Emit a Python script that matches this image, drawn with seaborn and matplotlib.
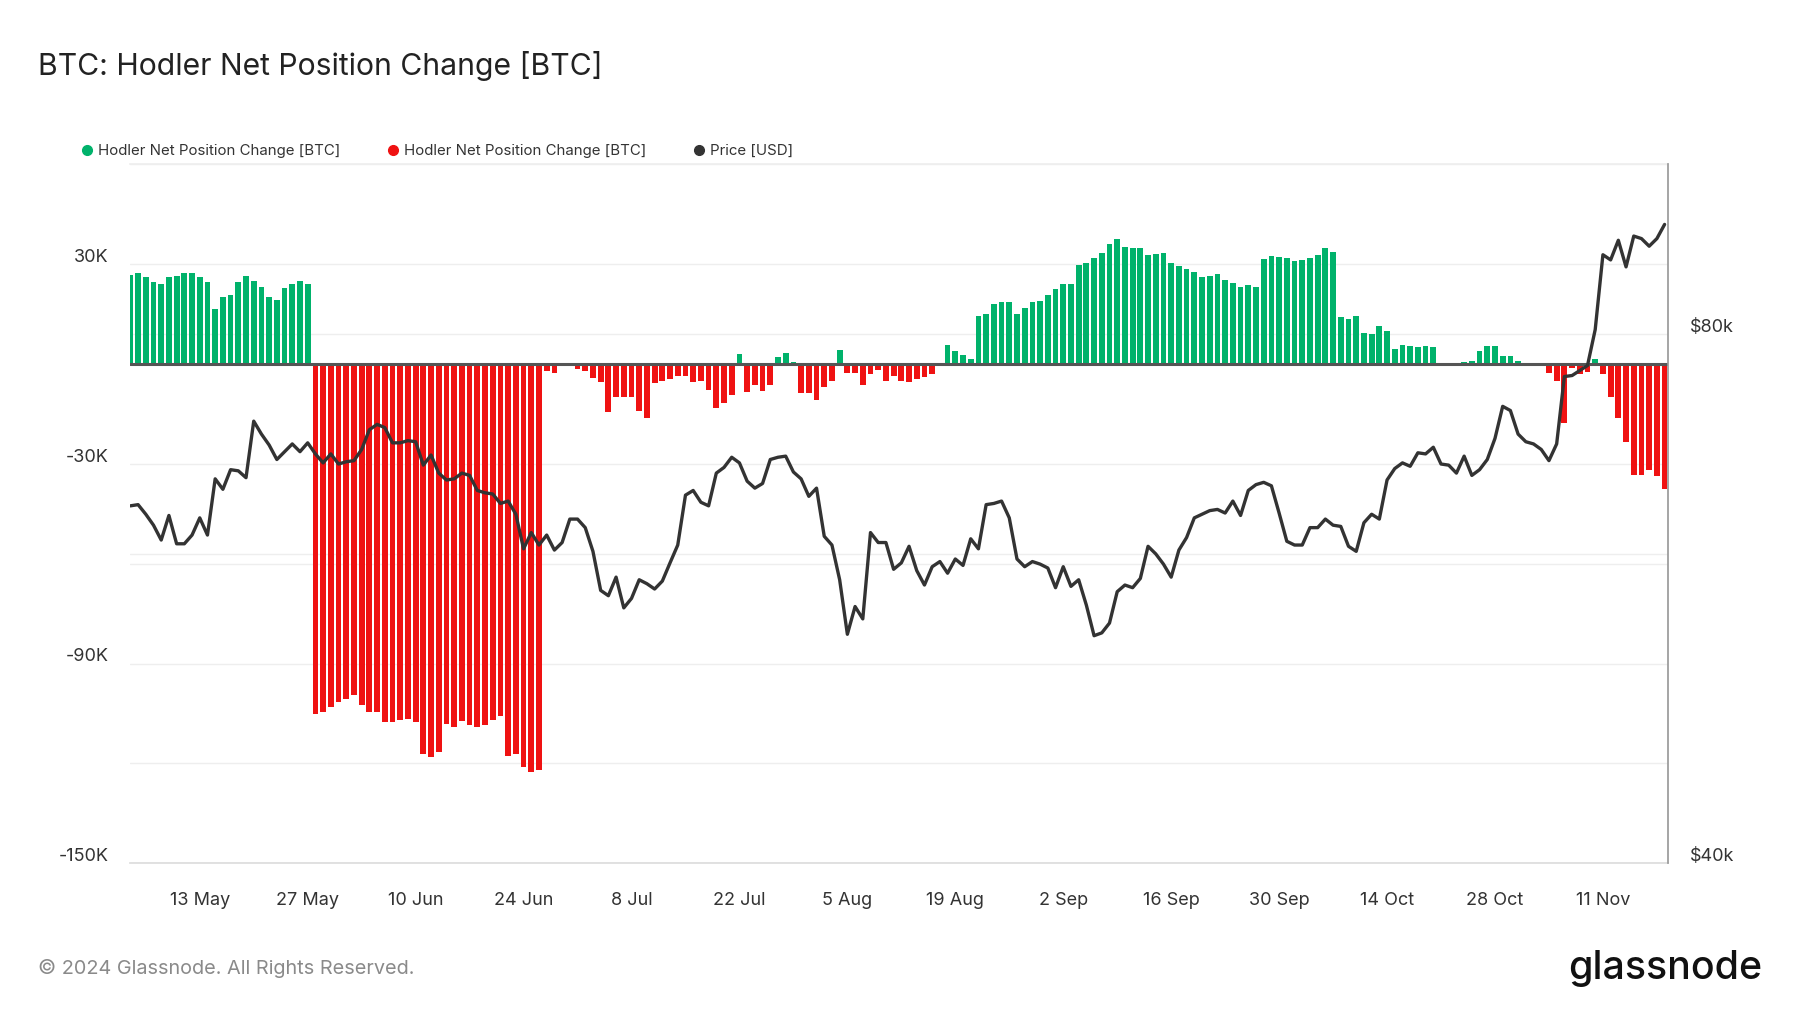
import numpy as np
import pandas as pd
import matplotlib
matplotlib.use('Agg')
import matplotlib.pyplot as plt
import matplotlib.dates as mdates
from matplotlib.lines import Line2D
from matplotlib.ticker import NullLocator
from matplotlib.transforms import ScaledTranslation
import seaborn as sns

# daily data, 4 May 2024 -> 19 Nov 2024
start_date = '2024-05-04'

# hodler net position change, thousands of BTC
hodler_k = [
    # 4 May - 27 May
    26.8, 27.3, 26.0, 24.6, 24.1, 26.0, 26.4, 27.3, 27.3, 26.0,
    24.6, 16.4, 20.1, 20.6, 24.6, 26.4, 25.0, 23.2, 20.1, 19.1,
    22.7, 24.1, 25.0, 24.1,
    # 28 May - 26 Jun
    -105.3, -104.5, -103.1, -101.6, -100.8, -99.5, -102.6, -104.5, -104.5, -107.6,
    -107.6, -107.1, -106.8, -107.6, -117.2, -118.2, -116.7, -108.1, -109.1, -107.3,
    -108.6, -109.1, -108.6, -107.1, -105.8, -117.7, -117.2, -121.2, -122.6, -122.1,
    # 27 Jun - 21 Aug
    -2.0, -2.8, -0.6, -0.6, -1.6, -2.1, -4.1, -5.5, -14.6, -10.1,
    -10.1, -10.1, -14.1, -16.4, -5.8, -5.0, -4.6, -3.6, -3.6, -5.5,
    -5.0, -7.8, -13.2, -11.9, -9.5, 3.0, -8.5, -6.3, -8.1, -6.3,
    2.2, 3.4, 0.7, -8.8, -8.6, -10.9, -6.8, -5.1, 4.2, -2.6,
    -2.8, -6.2, -3.0, -1.8, -5.0, -3.6, -5.0, -5.5, -4.6, -4.0,
    -3.0, 0.2, 5.7, 3.9, 2.7, 1.4,
    # 22 Aug - 14 Oct
    14.5, 15.0, 18.0, 18.5, 18.5, 15.0, 16.7, 18.5, 19.0, 20.7,
    22.5, 23.9, 23.9, 29.7, 30.4, 31.7, 33.4, 36.1, 37.4, 35.2,
    34.7, 34.7, 32.6, 33.1, 33.4, 30.4, 29.3, 28.5, 27.5, 26.1,
    26.5, 27.0, 25.3, 24.3, 23.1, 23.8, 23.0, 31.6, 32.4, 32.1,
    31.7, 30.9, 31.2, 31.7, 32.6, 34.7, 33.6, 14.0, 13.6, 14.5,
    9.4, 9.0, 11.3, 10.0,
    # 15 Oct - 19 Nov
    4.5, 5.8, 5.4, 5.0, 5.4, 5.0, 0.1, 0.0, 0.1, 0.5,
    0.9, 4.0, 5.4, 5.4, 2.4, 2.4, 1.0, 0.0, -0.6, 0.0,
    -2.8, -5.1, -17.7, -1.1, -3.0, -2.3, 1.4, -3.1, -10.1, -16.4,
    -23.6, -33.3, -33.3, -31.8, -33.7, -37.7,
]

# BTC price, thousands of USD
price_k = [
    63.9, 64.0, 63.2, 62.3, 61.1, 63.1, 60.8, 60.8, 61.5, 62.9,
    61.5, 66.2, 65.3, 67.0, 66.9, 66.3, 71.4, 70.2, 69.2, 67.9,
    68.6, 69.3, 68.6, 69.4, 68.4, 67.6, 68.4, 67.5, 67.7, 67.8,
    68.8, 70.6, 71.1, 70.8, 69.4, 69.4, 69.6, 69.5, 67.4, 68.3,
    66.7, 66.1, 66.2, 66.7, 66.5, 65.2, 65.0, 64.9, 64.1, 64.3,
    63.2, 60.4, 61.7, 60.7, 61.5, 60.3, 60.9, 62.8, 62.8, 62.1,
    60.2, 57.2, 56.8, 58.2, 55.9, 56.6, 58.0, 57.7, 57.3, 57.9,
    59.3, 60.7, 64.8, 65.2, 64.2, 63.9, 66.7, 67.2, 68.1, 67.6,
    66.0, 65.4, 65.8, 67.9, 68.1, 68.2, 66.8, 66.2, 64.7, 65.4,
    61.4, 60.7, 58.0, 54.0, 56.0, 55.1, 61.7, 60.9, 60.9, 58.8,
    59.3, 60.6, 58.7, 57.6, 59.0, 59.4, 58.5, 59.6, 59.1, 61.2,
    60.4, 64.0, 64.1, 64.3, 62.9, 59.6, 59.0, 59.4, 59.2, 58.9,
    57.4, 59.0, 57.5, 58.0, 56.1, 53.9, 54.1, 54.8, 57.1, 57.6,
    57.4, 58.1, 60.6, 60.0, 59.2, 58.2, 60.3, 61.3, 62.9, 63.2,
    63.5, 63.6, 63.3, 64.3, 63.1, 65.2, 65.7, 65.9, 65.6, 63.3,
    61.0, 60.7, 60.7, 62.1, 62.1, 62.8, 62.3, 62.2, 60.6, 60.2,
    62.5, 63.2, 62.8, 66.1, 67.1, 67.6, 67.3, 68.5, 68.4, 69.0,
    67.5, 67.4, 66.7, 68.2, 66.5, 67.0, 67.9, 69.8, 72.8, 72.4,
    70.2, 69.5, 69.3, 68.8, 67.8, 69.3, 75.7, 75.8, 76.3, 76.8,
    80.5, 88.8, 88.2, 90.5, 87.4, 91.0, 90.7, 89.8, 90.7, 92.4,
]

x_tick_dates = ['2024-05-13', '2024-05-27', '2024-06-10', '2024-06-24', '2024-07-08',
                '2024-07-22', '2024-08-05', '2024-08-19', '2024-09-02', '2024-09-16',
                '2024-09-30', '2024-10-14', '2024-10-28', '2024-11-11']
x_tick_labels = ['13 May', '27 May', '10 Jun', '24 Jun', '8 Jul', '22 Jul', '5 Aug',
                 '19 Aug', '2 Sep', '16 Sep', '30 Sep', '14 Oct', '28 Oct', '11 Nov']
left_ticks = [60000, 30000, 0, -30000, -60000, -90000, -120000, -150000]
left_labels = ['', '30K', '', '-30K', '', '-90K', '', '-150K']
right_ticks = [40000, 60000, 80000, 100000]
right_labels = ['$40k', '', '$80k', '']

GREEN = '#00b26b'
RED = '#ef1212'
DARK = '#333333'
GRID = '#eeeeee'

dates = pd.date_range(start_date, periods=len(hodler_k), freq='D')
df = pd.DataFrame({
    'x': mdates.date2num(dates),
    'change': np.array(hodler_k) * 1000,
    'price': np.array(price_k) * 1000,
})
df['side'] = np.where(df['change'] >= 0, 'pos', 'neg')

sns.set_theme(style='white')
plt.rcParams['font.family'] = ['Inter', 'DejaVu Sans']

fig = plt.figure(figsize=(18, 10.13), dpi=100)
rect = [0.072, 0.1478, 0.8547, 0.6902]
# nudge y tick labels up so they sit just above their gridline
lift = ScaledTranslation(0, 6.2 / 72, fig.dpi_scale_trans)

# background axes only carries the price gridlines so they sit under the bars
ax_bg = fig.add_axes(rect)
ax_bg.set_yscale('log')
ax_bg.set_ylim(40000, 100000)
ax_bg.set_yticks([60000, 80000])
ax_bg.yaxis.set_minor_locator(NullLocator())
ax_bg.grid(axis='y', color=GRID, lw=1)
ax_bg.set_xticks([])
ax_bg.tick_params(left=False, labelleft=False)
for s in ax_bg.spines.values():
    s.set_visible(False)

ax = fig.add_axes(rect)
ax.patch.set_alpha(0)
sns.barplot(data=df, x='x', y='change', hue='side', palette={'pos': GREEN, 'neg': RED},
            native_scale=True, width=0.75, dodge=False, saturation=1, legend=False,
            linewidth=0, ax=ax)
ax.axhline(0, color='#555555', lw=2.2, zorder=3)
ax.set_ylim(-150000, 60000)
ax.set_yticks(left_ticks, labels=left_labels)
ax.grid(axis='y', color=GRID, lw=1)
ax.set_axisbelow(True)
ax.set_xlim(df['x'].iloc[0] - 0.1, df['x'].iloc[-1] + 0.45)
ax.set_xticks(mdates.date2num(pd.to_datetime(x_tick_dates)), labels=x_tick_labels)
ax.tick_params(axis='x', length=10, color='#e8e8e8', pad=10.5, labelsize=13, labelcolor=DARK)
ax.tick_params(axis='y', length=0, pad=15.3, labelsize=13, labelcolor=DARK)
for lab in ax.get_yticklabels():
    lab.set_transform(lab.get_transform() + lift)
ax.set_xlabel('')
ax.set_ylabel('')
ax.spines['left'].set_visible(False)
ax.spines['right'].set_visible(False)
ax.spines['top'].set_color(GRID)
ax.spines['bottom'].set_color('#dddddd')

ax2 = ax.twinx()
sns.lineplot(x=df['x'], y=df['price'], color=DARK, lw=2.4, ax=ax2)
ax2.set_yscale('log')
ax2.set_ylim(40000, 100000)
ax2.set_yticks(right_ticks, labels=right_labels)
ax2.yaxis.set_minor_locator(NullLocator())
ax2.tick_params(axis='y', length=0, pad=16, labelsize=13, labelcolor=DARK)
for lab in ax2.get_yticklabels():
    lab.set_transform(lab.get_transform() + lift)
ax2.set_ylabel('')
ax2.set_xlabel('')
ax2.grid(False)
for name, s in ax2.spines.items():
    s.set_visible(name == 'right')
ax2.spines['right'].set_color('#9a9a9a')

handles = [
    Line2D([], [], marker='o', ls='', color=GREEN, markersize=7, label='Hodler Net Position Change [BTC]'),
    Line2D([], [], marker='o', ls='', color=RED, markersize=7, label='Hodler Net Position Change [BTC]'),
    Line2D([], [], marker='o', ls='', color=DARK, markersize=7, label='Price [USD]'),
]
fig.legend(handles=handles, loc='center left', bbox_to_anchor=(0.0443, 0.851), ncol=3,
           frameon=False, fontsize=10.8, handletextpad=0.2, columnspacing=3.05,
           handlelength=1.0, borderpad=0, borderaxespad=0, labelcolor=DARK)

fig.text(0.021, 0.935, 'BTC: Hodler Net Position Change [BTC]', fontsize=21.7,
         color='#222222', va='center', ha='left')
fig.text(0.021, 0.044, '\u00a9 2024 Glassnode. All Rights Reserved.', fontsize=14.3,
         color='#8a8a8a', va='center', ha='left')
fig.text(0.979, 0.044, 'glassnode', fontsize=28.3, color='#111111', va='center',
         ha='right', fontweight='medium')

fig.savefig('out.png', dpi=100)
